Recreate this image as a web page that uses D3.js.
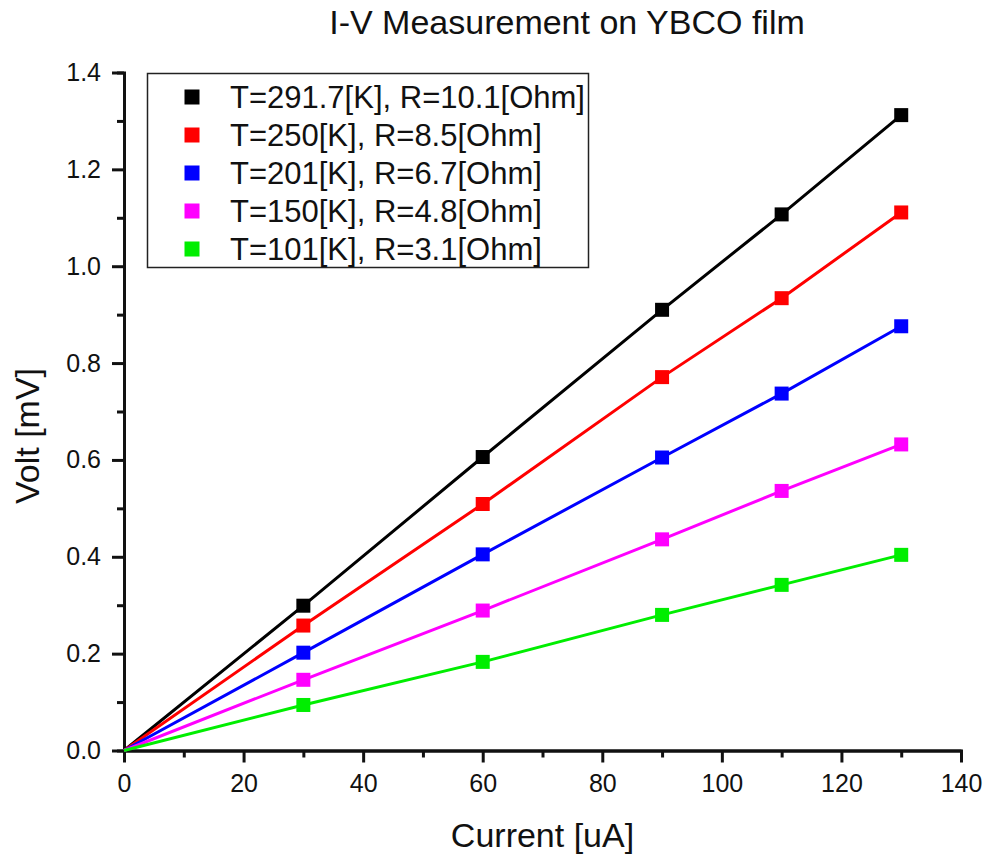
<!DOCTYPE html>
<html>
<head>
<meta charset="utf-8">
<script src="https://cdn.jsdelivr.net/npm/d3@7"></script>
<style>
  html, body { margin: 0; padding: 0; background: #fff; }
  text { font-family: "Liberation Sans", Arial, Helvetica, sans-serif; fill: #111; }
</style>
</head>
<body>
<svg id="chart" width="988" height="856"></svg>
<script>
const currents = [0, 30, 60, 90, 110, 130];
const seriesNames = [
  "T=291.7[K], R=10.1[Ohm]",
  "T=250[K], R=8.5[Ohm]",
  "T=201[K], R=6.7[Ohm]",
  "T=150[K], R=4.8[Ohm]",
  "T=101[K], R=3.1[Ohm]"
];
const seriesColors = ["#000000", "#ff0000", "#0000ff", "#ff00ff", "#00ee00"];
const v291 = [0, 0.299, 0.606, 0.910, 1.107, 1.312];
const v250 = [0, 0.258, 0.509, 0.771, 0.934, 1.111];
const v201 = [0, 0.202, 0.405, 0.605, 0.737, 0.876];
const v150 = [0, 0.146, 0.289, 0.436, 0.536, 0.632];
const v101 = [0, 0.094, 0.183, 0.280, 0.342, 0.404];
const seriesValues = [v291, v250, v201, v150, v101];
const xTicks = [0, 20, 40, 60, 80, 100, 120, 140];
const yTicks = [0.0, 0.2, 0.4, 0.6, 0.8, 1.0, 1.2, 1.4];
const xMinor = [10, 30, 50, 70, 90, 110, 130];
const yMinor = [0.1, 0.3, 0.5, 0.7, 0.9, 1.1, 1.3];

const svg = d3.select("#chart");
const x = d3.scaleLinear().domain([0, 140]).range([124, 961]);
const y = d3.scaleLinear().domain([0, 1.4]).range([750.5, 72.5]);

// Title
svg.append("text").attr("x", 567).attr("y", 34).attr("text-anchor", "middle")
  .style("font-size", "34px").text("I-V Measurement on YBCO film");

// Axes
function styleAxis(g) {
  g.select(".domain").attr("stroke", "#111").attr("stroke-width", 3);
  g.selectAll(".tick line").attr("stroke", "#111").attr("stroke-width", 3);
  g.selectAll(".tick text").style("font-size", "25px").attr("fill", "#111")
    .style("font-family", "'Liberation Sans', Arial, sans-serif");
}
const gxMinor = svg.append("g").attr("transform", `translate(0,${y(0)})`)
  .call(d3.axisBottom(x).tickValues(xMinor).tickSize(7).tickFormat(""));
const gyMinor = svg.append("g").attr("transform", `translate(${x(0)},0)`)
  .call(d3.axisLeft(y).tickValues(yMinor).tickSize(7).tickFormat(""));
styleAxis(gxMinor); styleAxis(gyMinor);
const gx = svg.append("g").attr("transform", `translate(0,${y(0)})`)
  .call(d3.axisBottom(x).tickValues(xTicks).tickSize(12).tickSizeOuter(0).tickPadding(12).tickFormat(d3.format("d")));
const gy = svg.append("g").attr("transform", `translate(${x(0)},0)`)
  .call(d3.axisLeft(y).tickValues(yTicks).tickSize(12).tickSizeOuter(0).tickPadding(11).tickFormat(d3.format(".1f")));
styleAxis(gx); styleAxis(gy);

// Axis labels
svg.append("text").attr("x", (x(0) + x(140)) / 2).attr("y", 847).attr("text-anchor", "middle")
  .style("font-size", "34px").text("Current [uA]");
svg.append("text").attr("transform", "translate(39,436) rotate(-90)").attr("text-anchor", "middle")
  .style("font-size", "34px").text("Volt [mV]");

// Lines and markers
const line = d3.line().x((d, i) => x(currents[i])).y(d => y(d));
seriesValues.forEach((vals, si) => {
  svg.append("path").datum(vals).attr("d", line).attr("fill", "none")
    .attr("stroke", seriesColors[si]).attr("stroke-width", 3);
});
const ms = 14;
seriesValues.forEach((vals, si) => {
  svg.append("g").selectAll("rect")
    .data(vals.map((v, i) => ({ c: currents[i], v })).filter(d => d.c > 0))
    .join("rect")
    .attr("x", d => x(d.c) - ms / 2).attr("y", d => y(d.v) - ms / 2)
    .attr("width", ms).attr("height", ms).attr("fill", seriesColors[si]);
});

// Legend
const lg = svg.append("g");
lg.append("rect").attr("x", 147.5).attr("y", 73.5).attr("width", 441).attr("height", 194)
  .attr("fill", "#fff").attr("stroke", "#222").attr("stroke-width", 1.5);
seriesNames.forEach((name, i) => {
  const cy = 97 + i * 38;
  lg.append("rect").attr("x", 192 - 7.5).attr("y", cy - 7.5).attr("width", 15).attr("height", 15)
    .attr("fill", seriesColors[i]);
  lg.append("text").attr("x", 230).attr("y", cy + 11).style("font-size", "31px").text(name);
});
</script>
</body>
</html>
